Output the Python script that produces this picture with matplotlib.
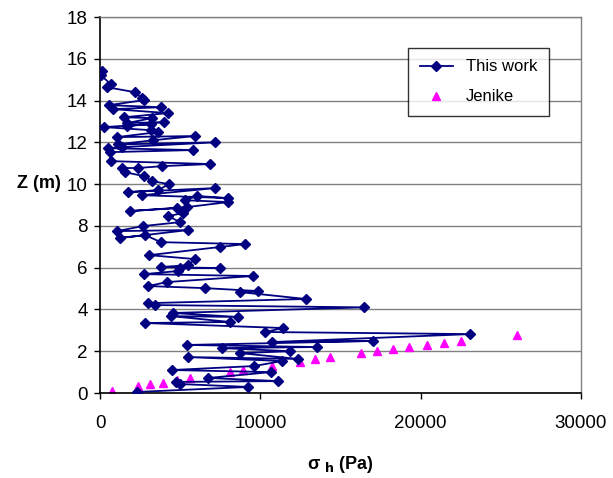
import matplotlib
matplotlib.use("Agg")
import matplotlib.pyplot as plt

plt.rcParams['font.family'] = ['Liberation Sans', 'DejaVu Sans']

# "This work" series (sigma_h in Pa, Z in m), in drawing order
sigma_work = [125, 60, 690, 440, 2180, 2620, 2750, 560, 3800, 810, 4240,
              1500, 3250, 1680, 4000, 1680, 3180, 250, 3180, 3620,
              1060, 5930, 3300, 1120, 7180, 1370, 500, 5800, 620,
              690, 6860, 3870, 2370, 1370, 1560, 2750, 3250, 4300,
              3620, 1750, 7180, 2620, 8000, 6050, 5300, 8000, 5430,
              1870, 4800, 5180, 4240, 5000, 2680, 1060, 5490, 1250, 2810,
              3800, 9050, 7490, 3060, 5930, 5490, 3800, 7490, 5000,
              4870, 2750, 9550, 4180, 3000, 6550, 9860, 8740, 12850,
              3000, 3430, 16470, 4550, 8610, 4430, 8110, 2810,
              11420, 10300, 23090, 10730, 17040, 5430, 13540, 7610,
              11860, 8740, 12360, 5490, 11360, 9610, 4490, 10670,
              6740, 11110, 4740, 4990, 9240, 2310]
z_work = [15.4, 15.2, 14.78, 14.64, 14.4, 14.11, 14.02, 13.78, 13.68, 13.59, 13.4,
          13.2, 13.16, 12.92, 12.97, 12.78, 12.87, 12.73, 12.58, 12.49,
          12.25, 12.3, 12.1, 11.9, 12.0, 11.77, 11.72, 11.63, 11.53,
          11.1, 10.96, 10.86, 10.77, 10.77, 10.57, 10.38, 10.14, 10.0,
          9.71, 9.62, 9.81, 9.47, 9.33, 9.43, 9.23, 9.14, 8.9,
          8.71, 8.85, 8.61, 8.47, 8.18, 7.99, 7.75, 7.8, 7.42, 7.56,
          7.22, 7.13, 6.99, 6.6, 6.41, 6.12, 6.03, 5.98, 5.98,
          5.84, 5.69, 5.6, 5.31, 5.12, 5.02, 4.88, 4.83, 4.5,
          4.3, 4.21, 4.1, 3.83, 3.64, 3.68, 3.4, 3.35,
          3.11, 2.92, 2.82, 2.44, 2.49, 2.3, 2.2, 2.15,
          2.0, 1.91, 1.63, 1.72, 1.53, 1.29, 1.1, 1.0,
          0.72, 0.57, 0.53, 0.43, 0.29, 0.05]

# Jenike series
sigma_jenike = [750, 2370, 3120, 3930, 4800, 5620, 8110, 8920, 10730, 12480,
                13420, 14350, 16290, 17290, 18280, 19280, 20400, 21460, 22520, 26010]
z_jenike = [0.1, 0.33, 0.43, 0.5, 0.6, 0.72, 1.0, 1.1, 1.3, 1.5,
            1.62, 1.72, 1.9, 2.0, 2.1, 2.2, 2.3, 2.4, 2.5, 2.8]

x_ticks = [0, 10000, 20000, 30000]
y_ticks = [0, 2, 4, 6, 8, 10, 12, 14, 16, 18]

fig = plt.figure(figsize=(6.13, 4.78), dpi=100)
ax = fig.add_axes([100/613, 1-393/478, 481/613, 376/478])

ax.plot(sigma_work, z_work, color='#000080', lw=1.3, marker='D', ms=5.5,
        mfc='#000080', mec='#000080', label='This work', zorder=3)
ax.plot(sigma_jenike, z_jenike, ls='none', marker='^', ms=6,
        color='#FF00FF', label='Jenike', zorder=2)

ax.set_xlim(0, 30000)
ax.set_ylim(0, 18)
ax.set_xticks(x_ticks)
ax.set_yticks(y_ticks)
ax.tick_params(labelsize=13.5, length=4, direction='out', width=1)
ax.tick_params(axis='x', pad=12)
ax.tick_params(axis='y', pad=5)
ax.yaxis.grid(True, color='#808080', lw=1)
ax.set_axisbelow(True)
for s in ['left', 'bottom']:
    ax.spines[s].set_color('black')
    ax.spines[s].set_linewidth(1.2)
for s in ['top', 'right']:
    ax.spines[s].set_color('#808080')
    ax.spines[s].set_linewidth(1)

ax.set_xlabel(r'σ $_{\mathbf{h}}$ (Pa)', fontsize=13, fontweight='bold', labelpad=16)
fig.text(39/613, 1-183/478, 'Z (m)', fontsize=13, fontweight='bold',
         ha='center', va='center')

leg = ax.legend(loc='upper left', bbox_to_anchor=(0.64, 0.918), fontsize=12,
                frameon=True, fancybox=False, edgecolor='black',
                borderaxespad=0, borderpad=0.7, labelspacing=0.9,
                handlelength=2.0)
leg.get_frame().set_linewidth(1)

fig.savefig('out.png', dpi=100)
